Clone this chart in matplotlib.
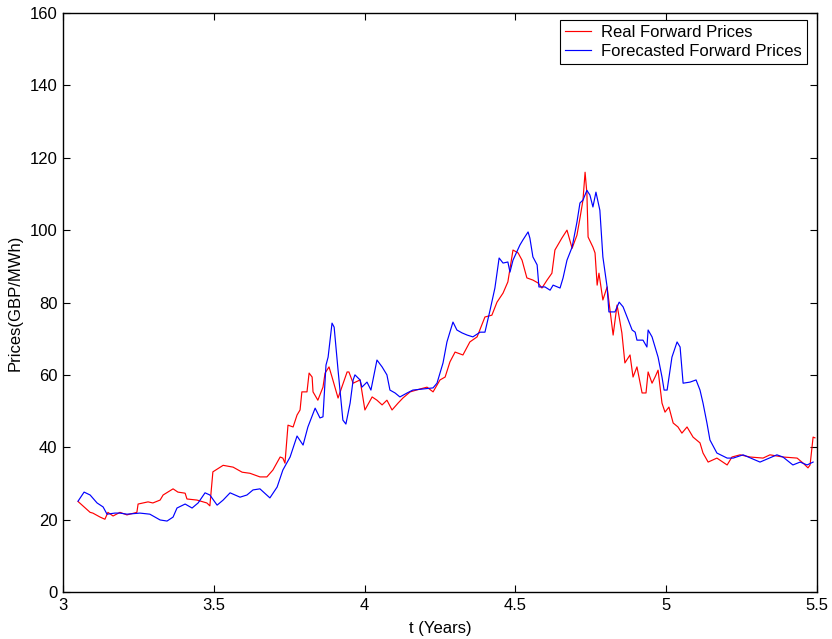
import matplotlib
matplotlib.use("Agg")
import matplotlib.pyplot as plt

plt.rcParams['font.family'] = ['Liberation Sans', 'DejaVu Sans']

# real forward prices: (t in years, GBP/MWh)
real_pts = [
    (3.050, 25.0), (3.090, 22.0), (3.099, 21.8), (3.123, 20.7), (3.139, 20.1),
    (3.149, 22.0), (3.166, 21.0), (3.189, 22.0), (3.212, 21.3), (3.245, 22.0),
    (3.249, 24.3), (3.282, 24.9), (3.298, 24.6), (3.322, 25.4), (3.332, 26.8),
    (3.365, 28.5), (3.381, 27.6), (3.405, 27.3), (3.411, 25.7), (3.444, 25.4),
    (3.477, 24.6), (3.487, 23.8), (3.497, 33.2), (3.531, 35.0), (3.564, 34.5),
    (3.594, 33.1), (3.620, 32.8), (3.653, 31.8), (3.676, 31.8), (3.696, 33.7),
    (3.720, 37.3), (3.729, 37.0), (3.736, 35.6), (3.746, 46.1), (3.763, 45.6),
    (3.776, 48.9), (3.786, 50.3), (3.792, 55.3), (3.809, 55.3), (3.816, 60.5),
    (3.826, 59.4), (3.829, 55.3), (3.845, 53.0), (3.862, 56.6), (3.869, 60.5),
    (3.882, 62.2), (3.892, 59.4), (3.912, 53.6), (3.942, 60.8), (3.948, 60.8),
    (3.962, 57.7), (3.985, 58.6), (4.001, 50.3), (4.025, 53.9), (4.041, 53.0),
    (4.058, 51.7), (4.074, 53.0), (4.091, 50.3), (4.111, 52.2), (4.127, 53.6),
    (4.151, 55.3), (4.184, 56.1), (4.207, 56.6), (4.227, 55.3), (4.250, 58.6),
    (4.267, 59.4), (4.283, 63.6), (4.300, 66.3), (4.326, 65.5), (4.349, 69.1),
    (4.373, 70.5), (4.399, 76.0), (4.422, 76.5), (4.439, 80.1), (4.459, 82.6),
    (4.475, 85.7), (4.492, 94.5), (4.509, 93.7), (4.522, 91.7), (4.538, 86.8),
    (4.558, 86.2), (4.575, 85.4), (4.588, 84.0), (4.605, 86.2), (4.621, 88.1),
    (4.631, 94.5), (4.654, 97.8), (4.671, 100.0), (4.688, 95.0), (4.704, 98.6),
    (4.714, 103.3), (4.724, 108.3), (4.731, 116.0), (4.737, 110.2), (4.741, 98.1),
    (4.757, 95.3), (4.764, 93.7), (4.771, 84.8), (4.777, 88.1), (4.790, 80.7),
    (4.804, 84.3), (4.824, 71.0), (4.837, 79.3), (4.853, 71.6), (4.863, 63.3),
    (4.880, 65.5), (4.890, 59.4), (4.903, 62.2), (4.920, 55.0), (4.933, 55.0),
    (4.940, 60.8), (4.953, 57.7), (4.963, 59.4), (4.973, 61.3), (4.986, 52.2),
    (4.996, 49.7), (5.009, 51.1), (5.023, 46.7), (5.039, 45.6), (5.052, 43.9),
    (5.069, 45.6), (5.089, 42.8), (5.112, 41.2), (5.122, 38.4), (5.139, 35.9),
    (5.168, 37.0), (5.202, 35.1), (5.218, 37.3), (5.245, 37.9), (5.278, 37.3),
    (5.321, 37.0), (5.344, 37.9), (5.387, 37.3), (5.434, 37.0), (5.454, 35.6),
    (5.470, 34.3), (5.477, 35.1), (5.487, 42.8), (5.493, 42.6),
]

# forecasted forward prices: (t in years, GBP/MWh)
fcst_pts = [
    (3.050, 25.1), (3.070, 27.6), (3.090, 26.8), (3.113, 24.6), (3.133, 23.5),
    (3.146, 21.5), (3.172, 21.8), (3.189, 21.8), (3.212, 21.5), (3.255, 21.8),
    (3.288, 21.5), (3.322, 19.9), (3.345, 19.6), (3.365, 20.7), (3.378, 23.2),
    (3.405, 24.3), (3.428, 23.2), (3.448, 24.6), (3.471, 27.4), (3.487, 26.8),
    (3.511, 24.0), (3.531, 25.4), (3.554, 27.4), (3.587, 26.2), (3.610, 26.8),
    (3.630, 28.2), (3.653, 28.5), (3.686, 26.0), (3.710, 29.0), (3.729, 33.7),
    (3.753, 37.3), (3.776, 43.1), (3.796, 40.6), (3.812, 45.6), (3.836, 50.8),
    (3.852, 48.1), (3.862, 48.4), (3.872, 62.7), (3.879, 64.9), (3.892, 74.3),
    (3.899, 73.2), (3.912, 61.3), (3.928, 47.5), (3.938, 46.4), (3.952, 52.2),
    (3.962, 58.6), (3.968, 60.0), (3.985, 58.6), (3.991, 56.6), (4.008, 58.0),
    (4.021, 55.8), (4.041, 64.1), (4.058, 62.2), (4.074, 60.0), (4.084, 55.8),
    (4.101, 55.0), (4.117, 53.9), (4.141, 55.0), (4.160, 55.8), (4.194, 56.1),
    (4.227, 56.4), (4.240, 57.7), (4.260, 63.3), (4.273, 69.1), (4.293, 74.6),
    (4.306, 72.4), (4.323, 71.6), (4.340, 71.0), (4.359, 70.5), (4.383, 71.8),
    (4.399, 71.8), (4.416, 77.9), (4.432, 84.0), (4.446, 92.3), (4.459, 90.9),
    (4.475, 91.2), (4.482, 88.4), (4.492, 91.7), (4.515, 95.9), (4.525, 97.3),
    (4.542, 99.5), (4.548, 97.8), (4.558, 92.6), (4.572, 90.4), (4.578, 84.3),
    (4.598, 84.3), (4.615, 83.4), (4.625, 84.8), (4.648, 84.0), (4.658, 86.8),
    (4.671, 91.7), (4.688, 95.3), (4.704, 102.2), (4.714, 107.5), (4.724, 108.3),
    (4.737, 111.0), (4.747, 109.7), (4.757, 106.4), (4.767, 110.5), (4.780, 105.5),
    (4.790, 92.6), (4.804, 84.3), (4.810, 77.4), (4.830, 77.4), (4.844, 80.1),
    (4.857, 78.8), (4.870, 76.0), (4.880, 73.8), (4.887, 72.4), (4.897, 71.8),
    (4.903, 69.6), (4.923, 69.6), (4.936, 67.7), (4.940, 72.4), (4.953, 70.5),
    (4.963, 67.7), (4.973, 64.9), (4.986, 59.4), (4.993, 55.8), (5.003, 55.8),
    (5.019, 64.9), (5.036, 69.1), (5.046, 67.7), (5.056, 57.7), (5.079, 58.0),
    (5.099, 58.6), (5.112, 55.8), (5.122, 52.2), (5.135, 46.7), (5.145, 42.0),
    (5.168, 38.4), (5.202, 37.0), (5.222, 37.0), (5.255, 37.9), (5.311, 35.9),
    (5.367, 37.9), (5.387, 37.3), (5.420, 35.1), (5.444, 35.9), (5.467, 35.1),
    (5.487, 35.9),
]

t_real = [p[0] for p in real_pts]
real = [p[1] for p in real_pts]
t_fcst = [p[0] for p in fcst_pts]
fcst = [p[1] for p in fcst_pts]

fig = plt.figure(figsize=(8.32, 6.39), dpi=100)
ax = fig.add_axes([0.0757, 0.0736, 0.9063, 0.906])

ax.plot(t_real, real, color='red', linewidth=0.85, label='Real Forward Prices')
ax.plot(t_fcst, fcst, color='blue', linewidth=0.85, label='Forecasted Forward Prices')

ax.set_xlim(3, 5.5)
ax.set_ylim(0, 160)
ax.set_xticks([3, 3.5, 4, 4.5, 5, 5.5])
ax.set_xticklabels(['3', '3.5', '4', '4.5', '5', '5.5'])
ax.set_yticks(range(0, 161, 20))
ax.tick_params(direction='in', top=True, right=True, length=5, width=0.8,
               labelsize=12, pad=4)
for sp in ax.spines.values():
    sp.set_linewidth(1.0)

ax.set_xlabel('t (Years)', fontsize=12, labelpad=6)
ax.set_ylabel('Prices(GBP/MWh)', fontsize=12, labelpad=5)

leg = ax.legend(loc='upper right', bbox_to_anchor=(0.9867, 0.988),
                fontsize=12, fancybox=False, edgecolor='black', framealpha=1,
                borderaxespad=0, handlelength=1.6, handletextpad=0.6,
                borderpad=0.3, labelspacing=0.25)
leg.get_frame().set_linewidth(0.8)

fig.savefig('out.png', dpi=100)
